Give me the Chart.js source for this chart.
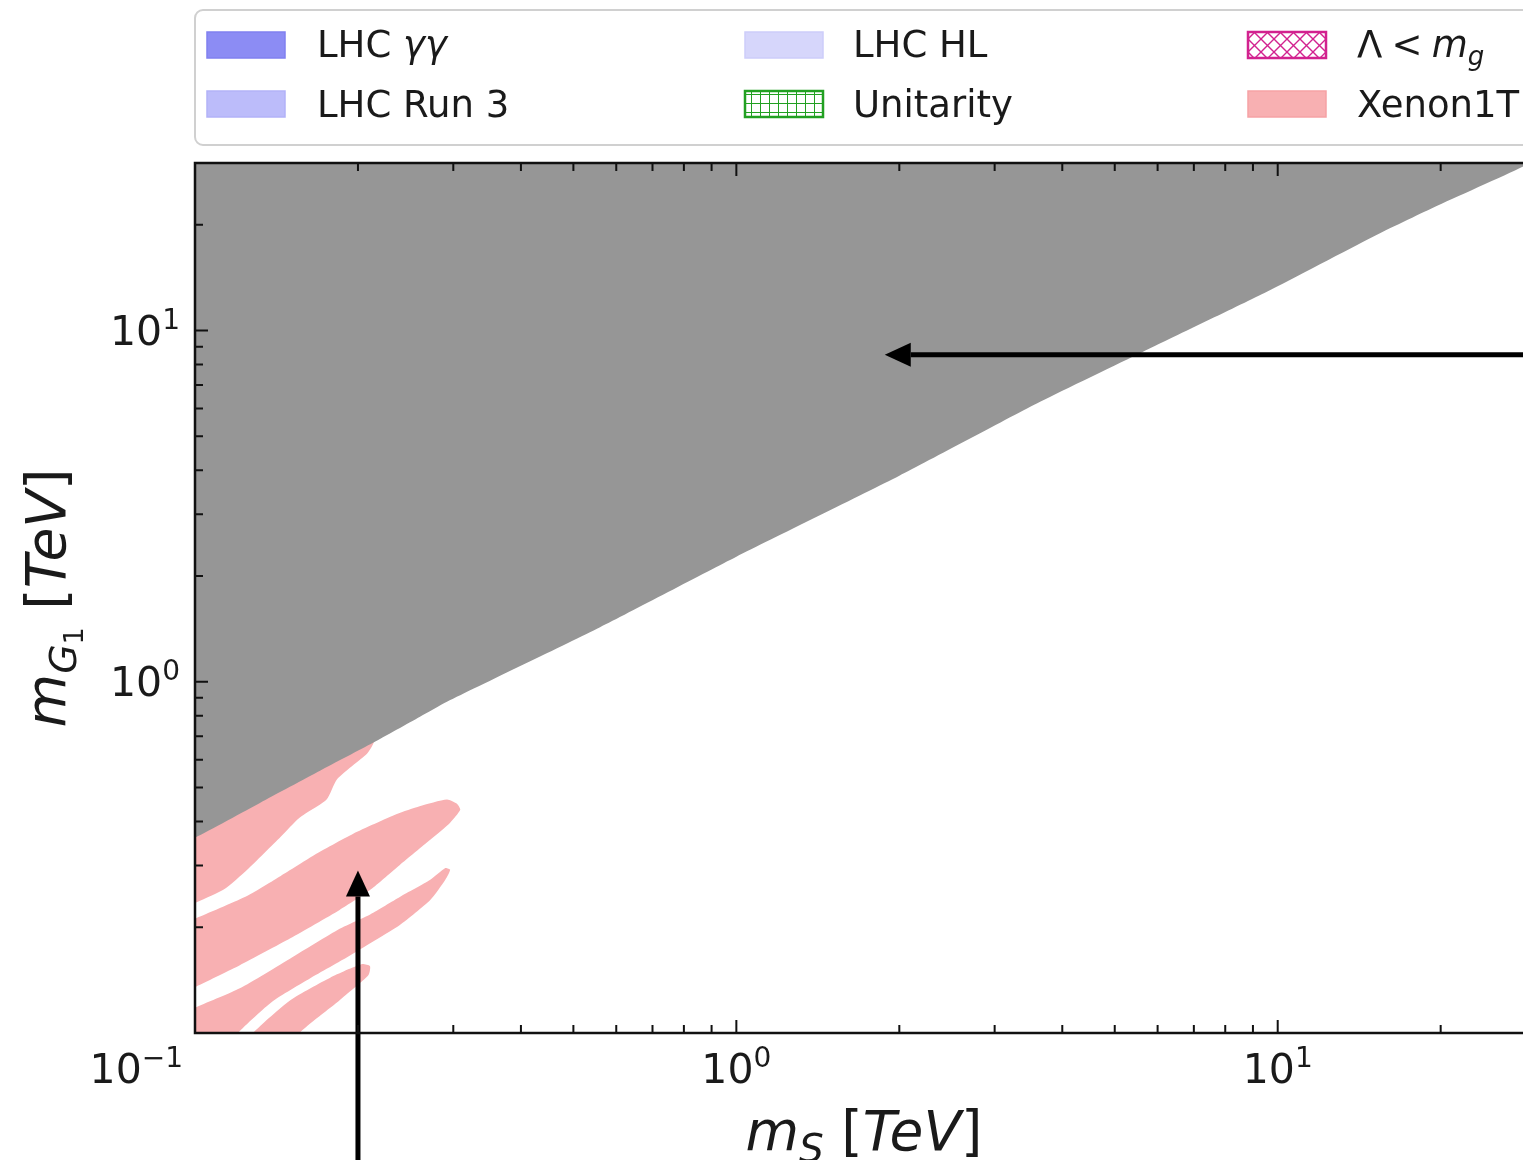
<!DOCTYPE html>
<html>
<head>
<meta charset="utf-8">
<script src="https://cdn.jsdelivr.net/npm/chart.js@4.4.0/dist/chart.umd.min.js"></script>
<style>
html, body { margin: 0; padding: 0; background: #fff; overflow: hidden; }
canvas { display: block; }
</style>
</head>
<body>
<canvas id="massplot" width="1545" height="1160"></canvas>
<script>
// values in TeV (x = m_S, y = m_G1)
var grayX = [0.095, 0.1, 0.1318, 0.1702, 0.2132, 0.2604, 0.292, 0.56, 1.0, 2.0, 3.64, 5.64, 9.55, 15.0, 19.4, 28.4, 31];
var grayY = [0.355, 0.36, 0.452, 0.558, 0.670, 0.795, 0.877, 1.43, 2.27, 3.86, 6.27, 8.71, 12.9, 18.5, 22.4, 29.3, 32];

var xenonAX = [0.096, 0.156, 0.218, 0.213, 0.208, 0.183, 0.175, 0.156, 0.144, 0.125, 0.113, 0.096];
var xenonAY = [0.392, 0.562, 0.730, 0.662, 0.625, 0.528, 0.462, 0.410, 0.362, 0.292, 0.256, 0.228];
var xenonBX = [0.096, 0.125, 0.144, 0.165, 0.196, 0.236, 0.260, 0.292, 0.305, 0.309, 0.296, 0.272, 0.239, 0.211, 0.185, 0.150, 0.121, 0.096];
var xenonBY = [0.206, 0.246, 0.280, 0.319, 0.369, 0.420, 0.442, 0.462, 0.449, 0.432, 0.397, 0.355, 0.301, 0.256, 0.224, 0.186, 0.156, 0.131];
var xenonCX = [0.096, 0.121, 0.150, 0.185, 0.211, 0.239, 0.272, 0.290, 0.296, 0.290, 0.272, 0.239, 0.193, 0.163, 0.139, 0.120, 0.117, 0.096];
var xenonCY = [0.115, 0.134, 0.163, 0.198, 0.218, 0.244, 0.273, 0.295, 0.2915, 0.273, 0.239, 0.203, 0.166, 0.143, 0.123, 0.100, 0.093, 0.093];
var xenonDX = [0.126, 0.128, 0.150, 0.178, 0.203, 0.2105, 0.209, 0.185, 0.156, 0.155];
var xenonDY = [0.093, 0.100, 0.124, 0.144, 0.157, 0.155, 0.146, 0.124, 0.100, 0.093];

// arrows: [x, y] tail -> head
var arrowTails = [[40, 8.54], [0.2, 0.04]];
var arrowHeads = [[1.88, 8.54], [0.2, 0.29]];

var majorTicks = [0.1, 1, 10];
var majorExps = ["\u22121", "0", "1"];
var minorTicks = [0.2, 0.3, 0.4, 0.5, 0.6, 0.7, 0.8, 0.9, 2, 3, 4, 5, 6, 7, 8, 9, 20];

var legendLabels = ["LHC $\u03b3\u03b3$", "LHC Run 3", "LHC HL", "Unitarity", "\u039b\u2005<\u2005$m_g$", "Xenon1T"];
var legendFills = ["#8c8cf4", "#bcbcfa", "#d6d6fb", "hatch+", "hatchx", "#f8b0b2"];
var legendEdges = ["#8080f0", "#b2b2f8", "#cdcdfa", "#22a022", "#d2228f", "#f6a2a5"];

var pink = "#f8b0b2";
var FONT = '"DejaVu Sans"';

function pts(xs, ys) {
    return xs.map(function (x, i) { return { x: x, y: ys[i] }; });
}

function fontOf(r) {
    return (r.it ? "italic " : "") + r.s + "px " + FONT;
}

function drawRuns(ctx, runs, x, y, align) {
    var w = 0;
    runs.forEach(function (r) { ctx.font = fontOf(r); w += ctx.measureText(r.t).width; });
    var cx = align === "center" ? x - w / 2 : (align === "right" ? x - w : x);
    ctx.textAlign = "left";
    ctx.textBaseline = "alphabetic";
    runs.forEach(function (r) {
        ctx.font = fontOf(r);
        ctx.fillText(r.t, cx, y + (r.dy || 0));
        cx += ctx.measureText(r.t).width;
    });
}

function mathRuns(str, size) {
    var runs = [];
    str.split("$").forEach(function (part, i) {
        if (!part) return;
        if (i % 2 === 0) { runs.push({ t: part, s: size }); return; }
        var m = part.split("_");
        runs.push({ t: m[0], s: size, it: true });
        if (m[1]) runs.push({ t: m[1], s: Math.round(size * 0.7), it: true, dy: Math.round(size * 0.22) });
    });
    return runs;
}

function hatch(ctx, kind, color) {
    var c = document.createElement("canvas");
    var n = kind === "hatch+" ? 9 : 13;
    c.width = n; c.height = n;
    var g = c.getContext("2d");
    g.fillStyle = "#fff";
    g.fillRect(0, 0, n, n);
    g.strokeStyle = color;
    g.lineWidth = kind === "hatch+" ? 1 : 1.4;
    g.beginPath();
    if (kind === "hatch+") {
        g.moveTo(0, 4.5); g.lineTo(n, 4.5);
        g.moveTo(4.5, 0); g.lineTo(4.5, n);
    } else {
        g.moveTo(0, 0); g.lineTo(n, n);
        g.moveTo(0, n); g.lineTo(n, 0);
    }
    g.stroke();
    return ctx.createPattern(c, "repeat");
}

function arrow(ctx, x0, y0, x1, y1) {
    var ang = Math.atan2(y1 - y0, x1 - x0);
    var hl = 26, hw = 12;
    var bx = x1 - hl * Math.cos(ang), by = y1 - hl * Math.sin(ang);
    ctx.strokeStyle = "#000";
    ctx.lineWidth = 5;
    ctx.beginPath();
    ctx.moveTo(x0, y0);
    ctx.lineTo(bx, by);
    ctx.stroke();
    ctx.fillStyle = "#000";
    ctx.beginPath();
    ctx.moveTo(x1, y1);
    ctx.lineTo(bx + hw * Math.sin(ang), by - hw * Math.cos(ang));
    ctx.lineTo(bx - hw * Math.sin(ang), by + hw * Math.cos(ang));
    ctx.closePath();
    ctx.fill();
}

var frame = {
    id: "frame",
    afterDraw: function (chart) {
        var ctx = chart.ctx, a = chart.chartArea;
        var xs = chart.scales.x, ys = chart.scales.y;
        ctx.save();

        // arrows
        arrowTails.forEach(function (t, i) {
            var h = arrowHeads[i];
            arrow(ctx, xs.getPixelForValue(t[0]), ys.getPixelForValue(t[1]),
                xs.getPixelForValue(h[0]), ys.getPixelForValue(h[1]));
        });

        // spines
        ctx.strokeStyle = "#111";
        ctx.lineWidth = 2.5;
        ctx.strokeRect(a.left, a.top, a.right - a.left, a.bottom - a.top);

        // inward ticks on all sides
        function ticks(list, len) {
            ctx.lineWidth = 2;
            ctx.beginPath();
            list.forEach(function (v) {
                var px = xs.getPixelForValue(v), py = ys.getPixelForValue(v);
                if (px > a.left + 1 && px < a.right - 1) {
                    ctx.moveTo(px, a.bottom); ctx.lineTo(px, a.bottom - len);
                    ctx.moveTo(px, a.top); ctx.lineTo(px, a.top + len);
                }
                if (py > a.top + 1 && py < a.bottom - 1) {
                    ctx.moveTo(a.left, py); ctx.lineTo(a.left + len, py);
                    ctx.moveTo(a.right, py); ctx.lineTo(a.right - len, py);
                }
            });
            ctx.stroke();
        }
        ticks(majorTicks, 13);
        ticks(minorTicks, 8);

        // tick labels
        ctx.fillStyle = "#1a1a1a";
        majorTicks.forEach(function (v, i) {
            var runs = [{ t: "10", s: 41 }, { t: majorExps[i], s: 28, dy: -16 }];
            if (v > 0.1) {
                drawRuns(ctx, runs, xs.getPixelForValue(v), a.bottom + 50, "center");
                drawRuns(ctx, runs, a.left - 15, ys.getPixelForValue(v) + 14, "right");
            } else {
                drawRuns(ctx, runs, a.left - 12, a.bottom + 50, "right");
            }
        });

        // axis titles
        drawRuns(ctx, mathRuns("$m_S$ [$TeV$]", 55), 864, 1150, "center");
        ctx.save();
        ctx.translate(65, 598);
        ctx.rotate(-Math.PI / 2);
        drawRuns(ctx, [
            { t: "m", s: 55, it: true },
            { t: "G", s: 38, it: true, dy: 11 },
            { t: "1", s: 27, dy: 18 },
            { t: " [", s: 55 },
            { t: "TeV", s: 55, it: true },
            { t: "]", s: 55 }
        ], 0, 0, "center");
        ctx.restore();

        // legend
        ctx.fillStyle = "#fff";
        ctx.strokeStyle = "#d0d0d0";
        ctx.lineWidth = 2;
        ctx.beginPath();
        ctx.roundRect(a.left, 10, 1400, 135, 8);
        ctx.fill();
        ctx.stroke();
        var colX = [207, 745, 1248], textX = [317, 853, 1357];
        var rowY = [32, 91], baseY = [57, 117];
        legendLabels.forEach(function (lab, i) {
            var col = Math.floor(i / 2), row = i % 2;
            var f = legendFills[i];
            ctx.fillStyle = f.indexOf("hatch") === 0 ? hatch(ctx, f, legendEdges[i]) : f;
            ctx.fillRect(colX[col], rowY[row], 78, 26);
            ctx.strokeStyle = legendEdges[i];
            ctx.lineWidth = f.indexOf("hatch") === 0 ? 2.5 : 1.5;
            ctx.strokeRect(colX[col], rowY[row], 78, 26);
            ctx.fillStyle = "#1a1a1a";
            drawRuns(ctx, mathRuns(lab, 37), textX[col], baseY[row], "left");
        });

        ctx.restore();
    }
};

function band(label, xs, ys, color, fill) {
    return {
        label: label,
        data: pts(xs, ys),
        fill: fill,
        backgroundColor: color,
        borderColor: color,
        borderWidth: 0,
        pointRadius: 0,
        tension: 0.2
    };
}

var config = {
    type: "line",
    data: {
        datasets: [
            band("excluded", grayX, grayY, "#969696", "end"),
            band("Xenon1T", xenonAX, xenonAY, pink, "shape"),
            band("Xenon1T", xenonBX, xenonBY, pink, "shape"),
            band("Xenon1T", xenonCX, xenonCY, pink, "shape"),
            band("Xenon1T", xenonDX, xenonDY, pink, "shape")
        ]
    },
    options: {
        responsive: false,
        animation: false,
        layout: { padding: { left: 195, top: 163, right: 9, bottom: 127 } },
        scales: {
            x: { type: "logarithmic", min: 0.1, max: 30, display: false },
            y: { type: "logarithmic", min: 0.1, max: 30, display: false }
        },
        plugins: { legend: { display: false }, tooltip: { enabled: false } }
    },
    plugins: [frame]
};
var massplot = new Chart(document.getElementById("massplot"), config);
</script>
</body>
</html>
